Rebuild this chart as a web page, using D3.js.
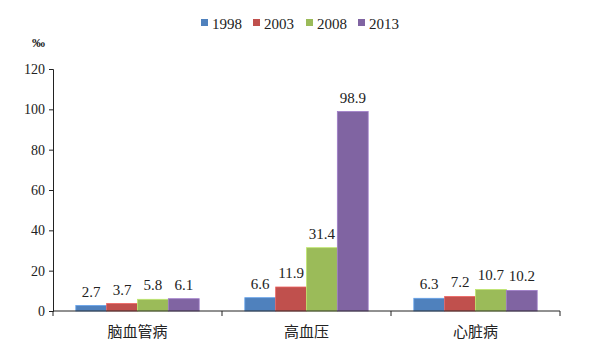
<!DOCTYPE html>
<html><head><meta charset="utf-8">
<script src="https://cdn.jsdelivr.net/npm/d3@7/dist/d3.min.js"></script>
<style>body{margin:0;background:#fff}</style>
</head><body>
<svg id="c" width="600" height="348"></svg>
<script>
const categories = ["脑血管病", "高血压", "心脏病"];
const seriesNames = ["1998", "2003", "2008", "2013"];
const values1998 = [2.7, 6.6, 6.3];
const values2003 = [3.7, 11.9, 7.2];
const values2008 = [5.8, 31.4, 10.7];
const values2013 = [6.1, 98.9, 10.2];
const yTicks = [0, 20, 40, 60, 80, 100, 120];
const unitLabel = "‰";

const seriesValues = [values1998, values2003, values2008, values2013];
const colors = ["#4F81BD", "#C0504D", "#9BBB59", "#8064A2"];
const svg = d3.select("#c");
const m = {l: 53, r: 40, t: 69, b: 37};
const W = 600, H = 348;
const x = d3.scaleBand().domain(categories).range([m.l, W - m.r]).paddingInner(0.27).paddingOuter(0.135);
const x1 = d3.scaleBand().domain(seriesNames).range([0, x.bandwidth()]);
const y = d3.scaleLinear().domain([0, 120]).range([H - m.b, m.t]);
const serif = "'Liberation Serif','Times New Roman',serif";
const cjk = "'Noto Sans CJK SC',sans-serif";

// y axis
const ya = svg.append("g").attr("transform", `translate(${m.l},0)`)
  .call(d3.axisLeft(y).tickValues(yTicks).tickSize(4).tickPadding(4));
ya.select(".domain").attr("stroke", "#222");
ya.selectAll(".tick line").attr("stroke", "#222");
ya.selectAll("text").attr("font-family", serif).attr("font-size", 14).attr("fill", "#222");

// bars
seriesNames.forEach((s, i) => {
  const g = svg.append("g");
  g.selectAll("rect").data(categories).join("rect")
    .attr("x", c => x(c) + x1(s))
    .attr("y", (c, j) => y(seriesValues[i][j]))
    .attr("width", x1.bandwidth())
    .attr("height", (c, j) => y(0) - y(seriesValues[i][j]))
    .attr("fill", colors[i])
    .attr("stroke", d3.color(colors[i]).brighter(0.6))
    .attr("stroke-width", 0.8);
  g.selectAll("text").data(categories).join("text")
    .attr("x", c => x(c) + x1(s) + x1.bandwidth() / 2)
    .attr("y", (c, j) => y(seriesValues[i][j]) - 9)
    .attr("text-anchor", "middle")
    .attr("font-family", serif).attr("font-size", 15).attr("fill", "#222")
    .text((c, j) => seriesValues[i][j].toFixed(1));
});

// x axis
const xa = svg.append("g").attr("transform", `translate(0,${y(0)})`);
xa.append("line").attr("x1", m.l).attr("x2", W - m.r).attr("stroke", "#222");
const step = (W - m.r - m.l) / categories.length;
d3.range(categories.length + 1).forEach(k => {
  xa.append("line").attr("x1", m.l + k * step).attr("x2", m.l + k * step)
    .attr("y1", 0).attr("y2", 5).attr("stroke", "#222");
});
xa.selectAll("text.cat").data(categories).join("text").attr("class", "cat")
  .attr("x", c => x(c) + x.bandwidth() / 2).attr("y", 26)
  .attr("text-anchor", "middle").attr("font-family", cjk).attr("font-size", 15).attr("fill", "#222")
  .text(c => c);

// unit
svg.append("text").attr("x", 32).attr("y", 47).attr("font-family", serif)
  .attr("font-size", 13).attr("font-weight", "bold").attr("fill", "#222").text(unitLabel);

// legend
const lx = [201, 253, 306, 358];
const lg = svg.append("g");
seriesNames.forEach((s, i) => {
  lg.append("rect").attr("x", lx[i]).attr("y", 19).attr("width", 7).attr("height", 7)
    .attr("fill", colors[i]);
  lg.append("text").attr("x", lx[i] + 11).attr("y", 29).attr("font-family", serif)
    .attr("font-size", 15).attr("fill", "#222").text(s);
});
</script>
</body></html>
